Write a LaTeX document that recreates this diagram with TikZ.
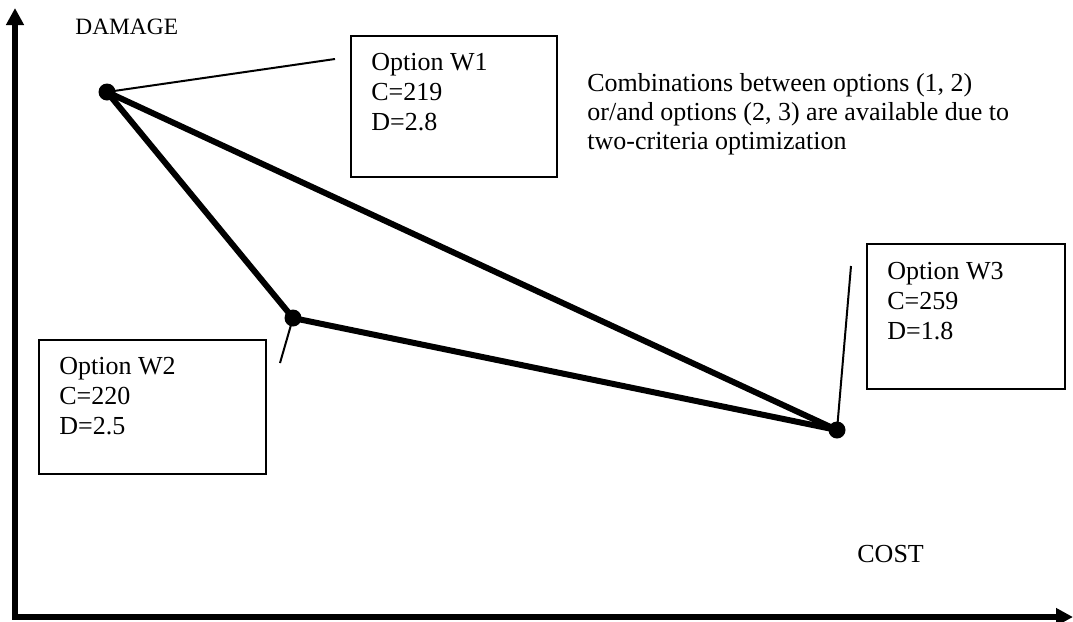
\documentclass[tikz,border=0pt]{standalone}
\usepackage{fontspec}
\setmainfont{Liberation Serif}
\usetikzlibrary{arrows.meta}

\tikzset{
    axis/.style={line width=3pt, -{Triangle[length=8.5pt, width=8.5pt]}},
    edge/.style={line width=3pt, line join=round},
    leader/.style={line width=1pt},
    dot/.style={circle, fill=black, inner sep=0pt, minimum size=8.5pt},
    optbox/.style={draw, line width=1pt, inner sep=0pt, anchor=north west},
    optlabel/.style={anchor=north west, inner sep=0pt, align=left, font=\fontsize{13}{15}\selectfont}
}

\begin{document}
\begin{tikzpicture}[x=0.5pt, y=-0.5pt]
    \useasboundingbox (0,0) rectangle (1073,622);

    % Axes
    \coordinate (origin) at (15,617);
    \coordinate (y_end) at (15,8);
    \coordinate (x_end) at (1073,617);
    \draw [axis] (origin) -- (y_end);
    \draw [axis] ([xshift=-1.5pt]origin) -- (x_end);
    \node [anchor=base west, inner sep=0pt, font=\fontsize{11.7}{14}\selectfont] (damage_lbl) at (75,34) {DAMAGE};
    \node [anchor=base west, inner sep=0pt, font=\fontsize{13}{15}\selectfont] (cost_lbl) at (857,562) {COST};

    % Options
    \node [dot] (pt_w1) at (107,92) {};
    \node [dot] (pt_w2) at (293,318) {};
    \node [dot] (pt_w3) at (837,430) {};

    % Front lines
    \draw [edge] (pt_w1.center) -- (pt_w2.center) -- (pt_w3.center);
    \draw [edge] (pt_w1.center) -- (pt_w3.center);

    % Option W1
    \node [optbox, minimum width=103pt, minimum height=70.5pt] (box_w1) at (350,35) {};
    \node [optlabel] (txt_w1) at ([shift={(21,18)}]box_w1.north west) {Option W1\\C=219\\D=2.8};
    \coordinate (lead_w1) at (335,59);
    \draw [leader] (pt_w1.center) -- (lead_w1);

    % Option W2
    \node [optbox, minimum width=113.5pt, minimum height=67pt] (box_w2) at (38,339) {};
    \node [optlabel] (txt_w2) at ([shift={(21,18)}]box_w2.north west) {Option W2\\C=220\\D=2.5};
    \coordinate (lead_w2) at (280,363);
    \draw [leader] (pt_w2.center) -- (lead_w2);

    % Option W3
    \node [optbox, minimum width=99pt, minimum height=72.5pt] (box_w3) at (866,243) {};
    \node [optlabel] (txt_w3) at ([shift={(21,19)}]box_w3.north west) {Option W3\\C=259\\D=1.8};
    \coordinate (lead_w3) at (851,266);
    \draw [leader] (pt_w3.center) -- (lead_w3);

    % Note
    \node [optlabel, font=\fontsize{13}{14.5}\selectfont] (note) at (587,73) {Combinations between options (1, 2)\\or/and options (2, 3) are available due to\\two-criteria optimization};
\end{tikzpicture}
\end{document}
